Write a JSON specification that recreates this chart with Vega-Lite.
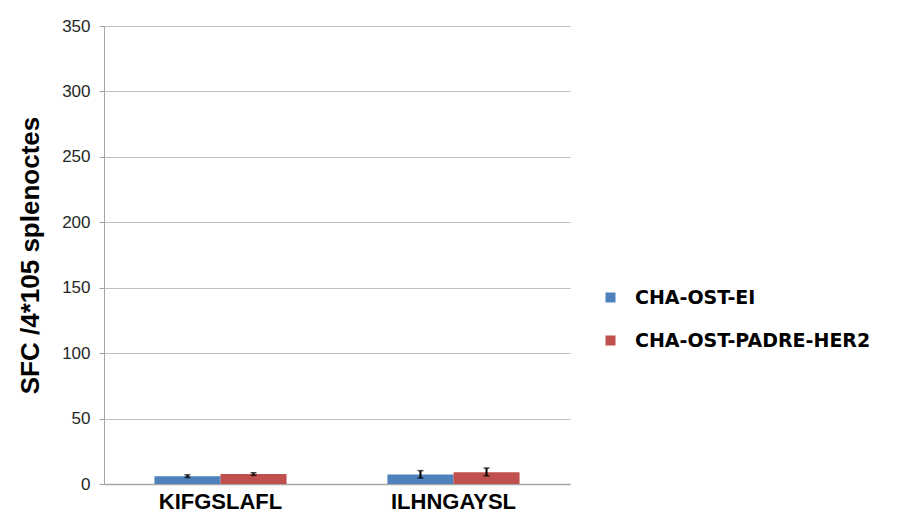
{
  "$schema": "https://vega.github.io/schema/vega-lite/v6.json",
  "autosize": "none",
  "width": 466,
  "height": 458,
  "padding": {"left": 104, "top": 26, "right": 333, "bottom": 31},
  "background": "white",
  "config": {
    "view": {"stroke": null},
    "font": "Liberation Sans"
  },
  "data": {
    "values": [
      {"peptide": "KIFGSLAFL", "group": "CHA-OST-EI", "value": 6, "lo": 5, "hi": 7},
      {"peptide": "KIFGSLAFL", "group": "CHA-OST-PADRE-HER2", "value": 7.6, "lo": 6.6, "hi": 8.6},
      {"peptide": "ILHNGAYSL", "group": "CHA-OST-EI", "value": 7.3, "lo": 4.6, "hi": 10.2},
      {"peptide": "ILHNGAYSL", "group": "CHA-OST-PADRE-HER2", "value": 8.9, "lo": 6.3, "hi": 12.2}
    ]
  },
  "encoding": {
    "x": {
      "field": "peptide", "type": "nominal", "sort": ["KIFGSLAFL", "ILHNGAYSL"],
      "scale": {"paddingInner": 0.433, "paddingOuter": 0.2165},
      "axis": {
        "title": null, "labelAngle": 0, "labelFontSize": 22, "labelFontWeight": "bold",
        "labelColor": "#000000", "ticks": false, "labelPadding": 7,
        "domainColor": "#a6a6a6", "domainWidth": 1.5
      }
    },
    "xOffset": {"field": "group", "type": "nominal", "sort": ["CHA-OST-EI", "CHA-OST-PADRE-HER2"]}
  },
  "layer": [
    {
      "mark": {"type": "bar"},
      "encoding": {
        "y": {
          "field": "value", "type": "quantitative",
          "scale": {"domain": [0, 350]},
          "axis": {
            "title": "SFC /4*105 splenoctes", "titleFontSize": 26, "titleFontWeight": "bold",
            "titleColor": "#000000", "titlePadding": 18,
            "values": [0, 50, 100, 150, 200, 250, 300, 350],
            "labelFontSize": 17, "labelColor": "#262626", "labelPadding": 9,
            "tickSize": 5, "tickColor": "#a6a6a6", "domainColor": "#a6a6a6",
            "gridColor": "#bfbfbf", "grid": true
          }
        },
        "color": {
          "field": "group", "type": "nominal",
          "sort": ["CHA-OST-EI", "CHA-OST-PADRE-HER2"],
          "scale": {"range": ["#4F81BD", "#C0504D"]},
          "legend": {
            "title": null, "orient": "none", "legendX": 497, "legendY": 262,
            "symbolType": "square", "symbolSize": 100, "symbolStrokeWidth": 0,
            "labelFont": "DejaVu Sans", "labelFontSize": 19, "labelFontWeight": "bold", "labelColor": "#000000",
            "labelLimit": 400, "rowPadding": 23, "labelOffset": 15
          }
        }
      }
    },
    {
      "mark": {"type": "rule", "color": "#000000", "strokeWidth": 2},
      "encoding": {
        "y": {"field": "lo", "type": "quantitative"},
        "y2": {"field": "hi"}
      }
    },
    {
      "mark": {"type": "tick", "color": "#000000", "thickness": 1.5, "size": 6, "orient": "horizontal"},
      "encoding": {"y": {"field": "lo", "type": "quantitative"}}
    },
    {
      "mark": {"type": "tick", "color": "#000000", "thickness": 1.5, "size": 6, "orient": "horizontal"},
      "encoding": {"y": {"field": "hi", "type": "quantitative"}}
    }
  ]
}
